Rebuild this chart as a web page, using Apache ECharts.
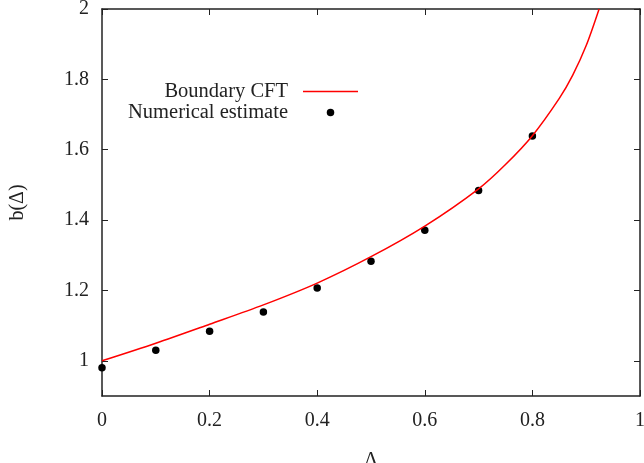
<!DOCTYPE html>
<html><head><meta charset="utf-8">
<script src="https://cdn.jsdelivr.net/npm/echarts@6/dist/echarts.min.js"></script>
<style>html,body{margin:0;padding:0;background:#fff}#c{width:644px;height:463px}</style>
</head><body><div id="c"></div>
<script>
// Boundary CFT curve
const curveX = [0, 0.1, 0.2, 0.3, 0.4, 0.5, 0.6, 0.7, 0.75, 0.8, 0.85, 0.875, 0.9, 0.924];
const curveY = [1.000, 1.050, 1.104, 1.159, 1.221, 1.296, 1.383, 1.489, 1.558, 1.640, 1.746, 1.812, 1.896, 2.000];
// Numerical estimate points
const pointX = [0, 0.1, 0.2, 0.3, 0.4, 0.5, 0.6, 0.7, 0.8];
const pointY = [0.980, 1.030, 1.084, 1.139, 1.207, 1.283, 1.371, 1.484, 1.639];
const xTicks = [0, 0.2, 0.4, 0.6, 0.8, 1];
const yTicks = [1, 1.2, 1.4, 1.6, 1.8, 2];

const font = 'Liberation Serif';
const fs = 20;
const lfs = 20.5;
const ink = '#222';
const chart = echarts.init(document.getElementById('c'));
const tick = {show: true, inside: true, length: 6, lineStyle: {color: ink, width: 1}};
const line = {show: true, onZero: false, lineStyle: {color: ink, width: 1.5}};
chart.setOption({
  animation: false,
  backgroundColor: '#fff',
  grid: {left: 102, top: 9, right: 4, bottom: 67, containLabel: false, outerBoundsMode: 'none'},
  legend: [
    {data: ['Boundary CFT'], orient: 'vertical', align: 'right', right: 286, top: 81, padding: 0,
     itemWidth: 55, itemHeight: 1.5, icon: 'rect', symbolKeepAspect: false,
     itemStyle: {color: '#ff0000'},
     textStyle: {fontFamily: font, fontSize: lfs, color: ink, padding: [0, 10, 0, 0]}},
    {data: ['Numerical estimate'], orient: 'vertical', align: 'right', right: 309.75, top: 102, padding: 0,
     itemWidth: 55, itemHeight: 7.5, icon: 'circle',
     textStyle: {fontFamily: font, fontSize: lfs, color: ink, padding: [0, 10, 0, 0]}}
  ],
  xAxis: [
    {type: 'value', min: 0, max: 1, interval: 0.2, position: 'bottom',
     axisLine: line, axisTick: tick, splitLine: {show: false},
     name: 'Δ', nameLocation: 'middle', nameGap: 55,
     nameTextStyle: {fontFamily: font, fontSize: fs, color: ink},
     axisLabel: {fontFamily: font, fontSize: fs, color: ink, margin: 15, showMaxLabel: true, showMinLabel: true,
       customValues: xTicks}},
    {type: 'value', min: 0, max: 1, interval: 0.2, position: 'top',
     axisLine: line, axisTick: tick, splitLine: {show: false}, axisLabel: {show: false}}
  ],
  yAxis: [
    {type: 'value', min: 0.9, max: 2, position: 'left',
     axisLine: line, splitLine: {show: false},
     axisTick: Object.assign({}, tick, {customValues: yTicks}),
     name: 'b(Δ)', nameLocation: 'middle', nameGap: 74, nameRotate: 90,
     nameTextStyle: {fontFamily: font, fontSize: fs, color: ink},
     axisLabel: {fontFamily: font, fontSize: fs, color: ink, margin: 13, customValues: yTicks}},
    {type: 'value', min: 0.9, max: 2, position: 'right',
     axisLine: line, splitLine: {show: false},
     axisTick: Object.assign({}, tick, {customValues: yTicks}),
     axisLabel: {show: false}}
  ],
  series: [
    {name: 'Boundary CFT', type: 'line', xAxisIndex: 0, yAxisIndex: 0,
     data: curveX.map((x, i) => [x, curveY[i]]), smooth: 0.3,
     showSymbol: false, symbol: 'none',
     lineStyle: {color: '#ff0000', width: 1.5}, itemStyle: {color: '#ff0000'}, clip: true},
    {name: 'Numerical estimate', type: 'scatter', xAxisIndex: 0, yAxisIndex: 0,
     data: pointX.map((x, i) => [x, pointY[i]]), symbol: 'circle', symbolSize: 7.5,
     itemStyle: {color: '#000', opacity: 1}, clip: false}
  ]
});
</script></body></html>
